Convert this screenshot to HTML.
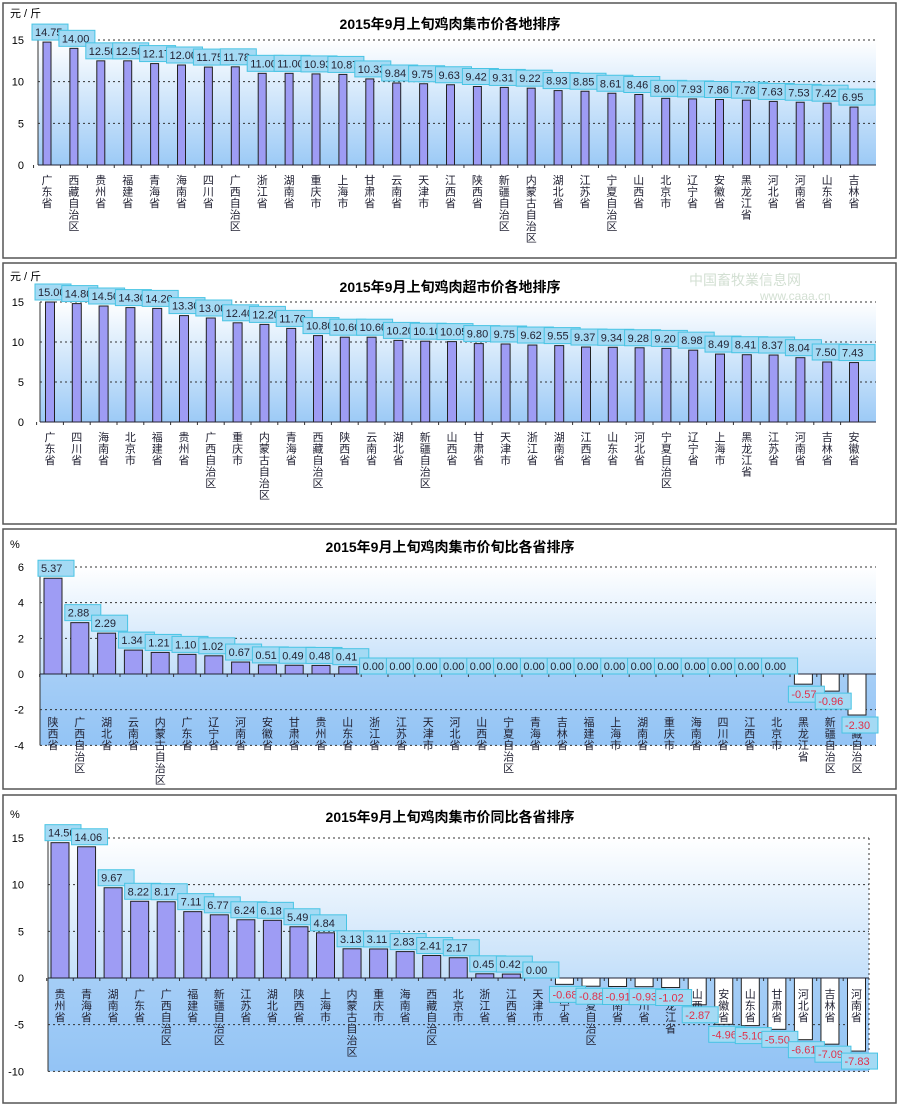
<!DOCTYPE html>
<html><head><meta charset="utf-8"><style>
body{margin:0;background:#fff;width:900px;height:1108px;overflow:hidden}
svg text{font-family:"Liberation Sans","Noto Sans CJK SC",sans-serif}
</style></head><body>
<svg id="s" width="900" height="1108" xmlns="http://www.w3.org/2000/svg">
<defs>
<linearGradient id="g" x1="0" y1="0" x2="0" y2="1"><stop offset="0" stop-color="#ffffff"/><stop offset="1" stop-color="#9ccaf6"/></linearGradient>
</defs>
</svg>
<script>
const S=document.getElementById('s');let h='';
function T(x,y,t,o){o=o||{};h+=`<text x="${x}" y="${y}" font-size="${o.fs||11}" fill="${o.c||'#000'}" text-anchor="${o.a||'start'}" ${o.f?`style="font-family:${o.f}"`:''} font-weight="${o.w||'normal'}">${t}</text>`;}
function chart(c){
 h+=`<rect x="3" y="${c.py}" width="893" height="${c.ph}" fill="#fff" stroke="#555" stroke-width="1.5"/>`;
 const Y=v=>c.y0+(v-c.v0)*(c.y1-c.y0)/(c.v1-c.v0);
 const top=Y(c.ticks[c.ticks.length-1]),bot=Y(c.ticks[0]);
 h+=`<rect x="${c.x0}" y="${top}" width="${c.x1-c.x0}" height="${bot-top}" fill="url(#g)"/>`;
 if(c.neg){h+=`<rect x="${c.x0}" y="${Y(0)}" width="${c.x1-c.x0}" height="${bot-Y(0)}" fill="#8cc0f4" opacity="0.55"/>`;}
 c.ticks.forEach(t=>{const y=Y(t);if(t!==0||c.neg)h+=`<line x1="${c.x0}" y1="${y}" x2="${c.x1}" y2="${y}" stroke="#333" stroke-dasharray="2,3"/>`;T(24,y+4,t,{a:'end',fs:11});});
 if(c.rdot)h+=`<line x1="${c.x1}" y1="${top}" x2="${c.x1}" y2="${bot}" stroke="#333" stroke-dasharray="2,3"/>`;
 h+=`<line x1="${c.x0}" y1="${top}" x2="${c.x0}" y2="${bot}" stroke="#333"/>`;
 const z=Y(0);
 c.d.forEach((d,i)=>{const cx=c.cx+i*c.sp,v=d[1],y=Y(v);
  h+=`<rect x="${cx-c.bw/2}" y="${Math.min(y,z)}" width="${c.bw}" height="${Math.abs(y-z)}" fill="${v<0?'#fff':'#9e9cf4'}" stroke="#222"/>`;
  h+=`<line x1="${cx-c.sp/2}" y1="${z}" x2="${cx-c.sp/2}" y2="${z+3}" stroke="#333"/>`;
 });
 h+=`<line x1="${c.x0}" y1="${z}" x2="${c.x1}" y2="${z}" stroke="#223"/>`;
 c.d.forEach((d,i)=>{const cx=c.cx+i*c.sp;[...d[0]].forEach((ch,k)=>T(cx,c.ly+k*11.5,ch,{a:'middle',fs:11,c:'#223'}));});
 c.d.forEach((d,i)=>{const cx=c.cx+i*c.sp,v=d[1],y=Y(v);let by=v<0?y+2:y-18;if(v===0)by=z-16;
  h+=`<rect x="${cx-15}" y="${by}" width="36" height="16" fill="#a4daf4" stroke="#48c4e4"/>`;
  T(cx-12,by+12,d[2]||v.toFixed(2),{fs:11,c:v<0?'#e0304a':'#223',f:'"Liberation Mono",monospace'});});
 T(450,c.ty,c.title,{a:'middle',fs:14,w:'bold',f:'"Liberation Serif","Noto Serif CJK SC",serif'});
 T(10,c.uy,c.unit,{fs:11});
}
const P=s=>s.split(',').map(x=>{const [a,b]=x.split(':');return [a,parseFloat(b)]});
chart({py:3,ph:255,x0:38,x1:876,y0:165,y1:40,v0:0,v1:15,ticks:[0,5,10,15],cx:47,sp:26.9,bw:8,ly:184,ty:29,uy:17,unit:'元 / 斤',title:'2015年9月上旬鸡肉集市价各地排序',
 d:P('广东省:14.75,西藏自治区:14.00,贵州省:12.50,福建省:12.50,青海省:12.17,海南省:12.00,四川省:11.75,广西自治区:11.78,浙江省:11.00,湖南省:11.00,重庆市:10.93,上海市:10.87,甘肃省:10.33,云南省:9.84,天津市:9.75,江西省:9.63,陕西省:9.42,新疆自治区:9.31,内蒙古自治区:9.22,湖北省:8.93,江苏省:8.85,宁夏自治区:8.61,山西省:8.46,北京市:8.00,辽宁省:7.93,安徽省:7.86,黑龙江省:7.78,河北省:7.63,河南省:7.53,山东省:7.42,吉林省:6.95')});
chart({py:263,ph:261,x0:40,x1:876,y0:422,y1:302,v0:0,v1:15,ticks:[0,5,10,15],cx:50,sp:26.8,bw:9,ly:441,ty:292,uy:280,unit:'元 / 斤',title:'2015年9月上旬鸡肉超市价各地排序',
 d:P('广东省:15.00,四川省:14.80,海南省:14.50,北京市:14.30,福建省:14.20,贵州省:13.30,广西自治区:13.00,重庆市:12.40,内蒙古自治区:12.20,青海省:11.70,西藏自治区:10.80,陕西省:10.60,云南省:10.60,湖北省:10.20,新疆自治区:10.10,山西省:10.05,甘肃省:9.80,天津市:9.75,浙江省:9.62,湖南省:9.55,江西省:9.37,山东省:9.34,河北省:9.28,宁夏自治区:9.20,辽宁省:8.98,上海市:8.49,黑龙江省:8.41,江苏省:8.37,河南省:8.04,吉林省:7.50,安徽省:7.43')});
chart({py:529,ph:260,x0:40,x1:876,y0:674,y1:567,v0:0,v1:6,ticks:[-4,-2,0,2,4,6],neg:1,cx:53,sp:26.8,bw:18,ly:726,ty:552,uy:548,unit:'%',title:'2015年9月上旬鸡肉集市价旬比各省排序',
 d:P('陕西省:5.37,广西自治区:2.88,湖北省:2.29,云南省:1.34,内蒙古自治区:1.21,广东省:1.10,辽宁省:1.02,河南省:0.67,安徽省:0.51,甘肃省:0.49,贵州省:0.48,山东省:0.41,浙江省:0.00,江苏省:0.00,天津市:0.00,河北省:0.00,山西省:0.00,宁夏自治区:0.00,青海省:0.00,吉林省:0.00,福建省:0.00,上海市:0.00,湖南省:0.00,重庆市:0.00,海南省:0.00,四川省:0.00,江西省:0.00,北京市:0.00,黑龙江省:-0.57,新疆自治区:-0.96,西藏自治区:-2.30')});
chart({py:795,ph:308,x0:48,x1:869,y0:978,y1:838,v0:0,v1:15,ticks:[-10,-5,0,5,10,15],neg:1,rdot:1,cx:60,sp:26.55,bw:18,ly:998,ty:822,uy:818,unit:'%',title:'2015年9月上旬鸡肉集市价同比各省排序',
 d:P('贵州省:14.50,青海省:14.06,湖南省:9.67,广东省:8.22,广西自治区:8.17,福建省:7.11,新疆自治区:6.77,江苏省:6.24,湖北省:6.18,陕西省:5.49,上海市:4.84,内蒙古自治区:3.13,重庆市:3.11,海南省:2.83,西藏自治区:2.41,北京市:2.17,浙江省:0.45,江西省:0.42,天津市:0.00,辽宁省:-0.68,宁夏自治区:-0.88,云南省:-0.91,四川省:-0.93,黑龙江省:-1.02,山西省:-2.87,安徽省:-4.96,山东省:-5.10,甘肃省:-5.50,河北省:-6.61,吉林省:-7.09,河南省:-7.83')});
h+=`<text x="745" y="285" font-size="14" fill="#c8d8c8" text-anchor="middle" opacity="0.8">中国畜牧業信息网</text><text x="760" y="300" font-size="12" fill="#c8d8c8" opacity="0.8">www.caaa.cn</text>`;
S.insertAdjacentHTML('beforeend',h);
</script>
</body></html>
